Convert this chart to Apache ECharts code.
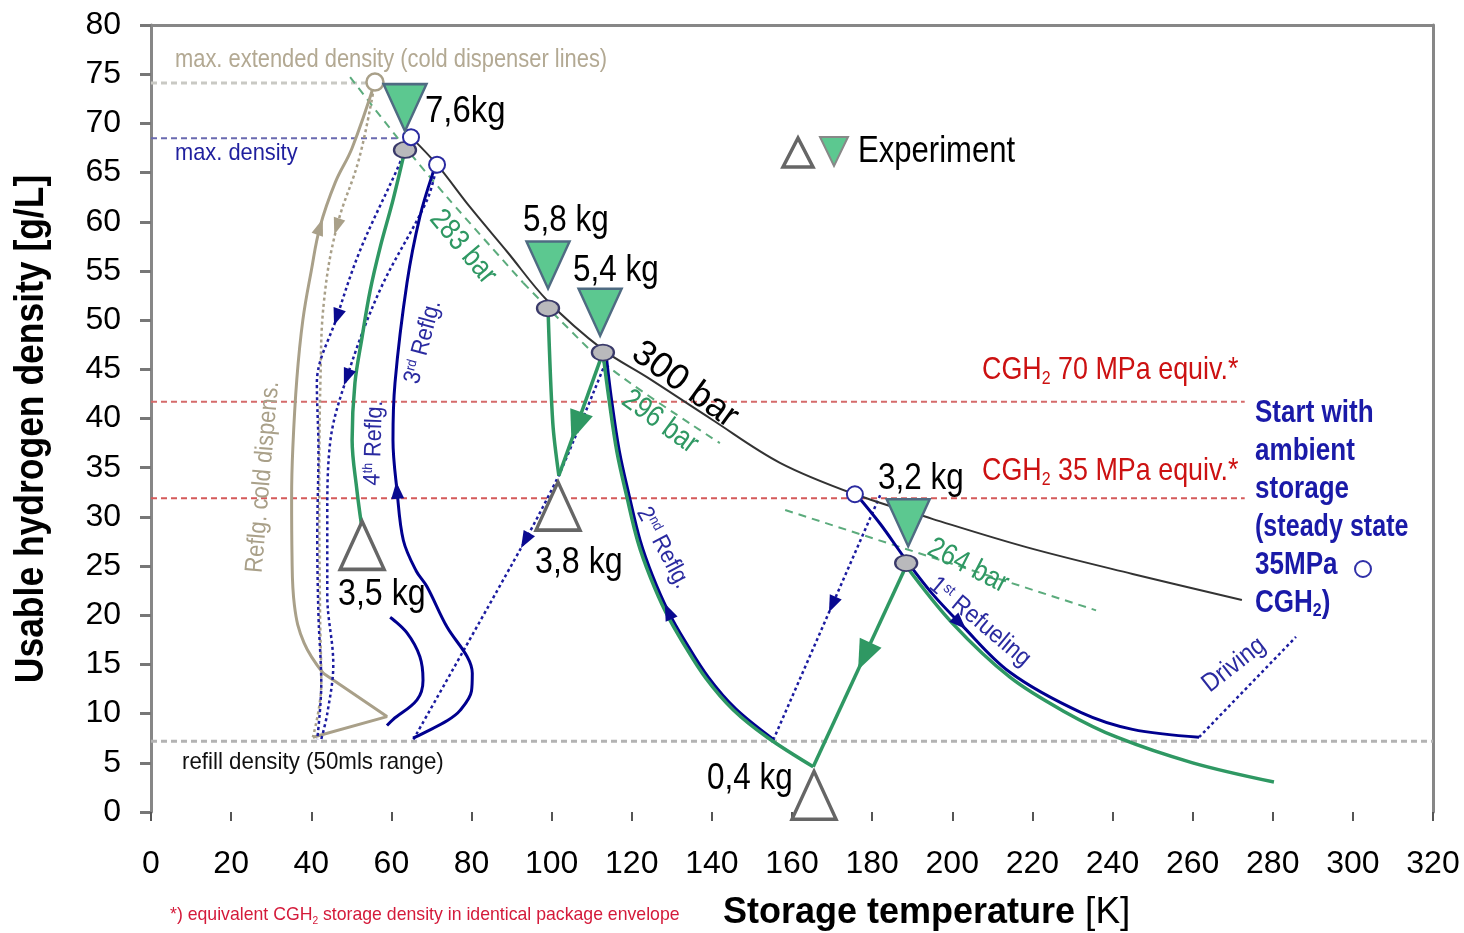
<!DOCTYPE html>
<html><head><meta charset="utf-8">
<script src="https://cdn.jsdelivr.net/npm/echarts@6.0.0/dist/echarts.min.js"></script>
<style>html,body{margin:0;padding:0;background:#fff}#c{width:1464px;height:933px}</style>
</head><body><div id="c"></div>
<script>
// ---------- axes ----------
const tempMin = 0, tempMax = 320, tempStep = 20;
const densMin = 0, densMax = 80, densStep = 5;

// ---------- reference levels [T, g/L] ----------
const maxExtendedDensity = [[0, 74.1], [56, 74.1]];
const maxDensityLine = [[0, 68.5], [61.5, 68.5]];
const cgh70Line = [[0, 41.7], [273, 41.7]];
const cgh35Line = [[0, 31.9], [273, 31.9]];
const refillLine = [[0, 7.2], [320, 7.2]];

// ---------- isobars ----------
const isobar300 = [[64.9,68.6],[71.4,65.8],[79.6,61.5],[89,56.9],[98.9,52.0],[112.8,47.0],[123.8,44.2],[140,39.9],[157,35.5],[175.7,32.3],[195,29.8],[218.7,26.9],[245,24.2],[272.3,21.55]];
const isobar283 = [[49.7,74.7],[61.4,68.6],[73.9,62.5],[92.9,53.8]];
const isobar296 = [[92.9,53.8],[102.1,50.0],[115.3,44.9],[142.0,37.5]];
const isobar264 = [[158.3,30.7],[235.9,20.5]];

// ---------- cold dispenser refill (tan) ----------
const coldRefillBase = [[40.4,7.6],[58.9,9.7],[43,14.1]];
const coldRefillRise = [[43,14.1],[38.2,17.2],[35.8,21],[35.2,26],[35.1,32],[35.4,37],[36.4,44],[37.9,50],[40,55],[42.2,59.5],[46,64],[50.2,67.5],[55.9,74.2]];
const coldDispDotted = [[55.9,74.2],[52,66.5],[46.4,59.5],[43.2,52],[42.3,44],[42,32],[42.2,20],[42.5,13],[40.4,7.6]];

// ---------- driving (blue dotted) ----------
const drivingA = [[63.4,67.3],[61.4,65.3],[52.2,57.1],[46.4,50.3],[41.4,43.6],[41.8,36.8],[41.5,28],[41.8,20],[42.5,13],[41.5,7.4]];
const drivingB = [[71.4,65.8],[68.9,62.2],[57.2,53.1],[48.9,44.2],[44.7,37.5],[44,30],[44,22],[45.5,15],[44,10],[42.5,7.4]];
const drivingC = [[114,46.2],[102.1,34.5],[93.4,27.6],[65.4,7.3]];
const drivingD = [[182,32.2],[155.5,7.5]];
const drivingE = [[261.6,7.6],[285.8,17.8]];

// ---------- refuelling (blue solid) ----------
const refuel1 = [[176,32.3],[182,29.3],[188.5,25.6],[195,22.2],[201.9,19.2],[214.4,14.2],[232.2,10.1],[245,8.4],[261.6,7.6]];
const refuel2 = [[155.6,7.3],[145.9,10.5],[139.1,13.7],[133.4,17.3],[129.1,20.4],[125.2,24.0],[122.1,27.6],[119.4,32.1],[116.9,36.7],[114.9,42.1],[113.6,46.5]];
const refuel3 = [[65.4,7.5],[67.9,8.0],[74,9.3],[77.1,10.3],[80,12.3],[80.2,14.1],[78.9,15.8],[73.9,18.8],[68.9,22.9],[66.2,24.5],[63,27.6],[61.4,32.7],[60.4,37.8],[60.9,43.6],[63.9,53.8],[67.1,60.5],[70.4,65.0],[71.4,65.8]];
const refuel4 = [[58.9,8.8],[60.4,9.4],[66.4,11.4],[67.9,13.4],[67.1,15.8],[63.9,18.2],[59.7,19.8]];

// ---------- experiments (green solid) ----------
const exp76 = [[63.4,67.3],[60.4,62.2],[57.2,57.4],[54.7,53.0],[52.7,48.3],[50.9,43.6],[50.2,37.8],[51.4,32.7],[52.5,29.3]];
const exp58 = [[99.1,51.2],[100.3,39.5],[101.8,34.2]];
const exp54to38 = [[112.8,46.7],[101.8,34.2]];
const exp54 = [[112.8,46.7],[114.3,42],[116.3,36.6],[118.8,32],[121.5,27.5],[124.6,23.9],[128.5,20.3],[132.8,17.2],[138.5,13.6],[145.3,10.4],[153.8,7.6],[165.3,4.6]];
const exp32to04 = [[188.5,25.0],[165.3,4.6]];
const exp32 = [[188.5,25.0],[200,19.2],[214.4,13.7],[228,10.2],[241.1,7.6],[260,5.0],[280.3,3.05]];

// ---------- markers ----------
const startTriangles = [[63.4,71.6],[99.1,55.6],[112.1,50.8],[189.0,29.4]];   // 7,6 / 5,8 / 5,4 / 3,2 kg
const endTriangles = [[52.7,27.1],[101.6,31.1],[165.5,1.7]];                  // 3,5 / 3,8 / 0,4 kg
const grayPoints = [[63.4,67.3],[99.1,51.2],[112.8,46.7],[188.5,25.3]];
const openPointsBlue = [[64.9,68.6],[71.4,65.8],[175.7,32.3]];
const openPointsTan = [[55.9,74.2]];

// arrow heads placed on paths: [path, segment, fraction, kind]
const arrowSpecs = [
  [coldRefillRise, 9, 0.0, 'tan'],
  [coldDispDotted, 1, 1.0, 'tan'],
  [drivingA, 2, 1.0, 'blue'],
  [drivingB, 2, 1.0, 'blue'],
  [refuel3, 11, 0.0, 'blue'],
  [drivingC, 2, 0.0, 'blue'],
  [refuel2, 4, 0.0, 'blue'],
  [exp54to38, 0, 0.6, 'green'],
  [drivingD, 0, 0.45, 'blue'],
  [exp32to04, 0, 0.45, 'green'],
  [refuel1, 4, 0.0, 'blue']
];

const FN = "'Liberation Sans Narrow','Arial Narrow','Liberation Sans',Arial,sans-serif";
const FS = "'Liberation Sans',Arial,sans-serif";
const BLUE = '#00008f', GREEN = '#2f9863', TAN = '#a9a089';

function ln(data, color, width, dash, smooth, z) {
  return {type:'line', data: data, showSymbol:false, symbol:'none', smooth: smooth || 0,
    lineStyle:{color:color, width:width, type: dash || 'solid', cap:'butt'}, z: z || 2,
    silent:true, animation:false, clip:true};
}
const dotted = [3, 3];
const series = [
  ln(maxExtendedDensity, '#c9c9c4', 3, [6,4]),
  ln(maxDensityLine, '#6a6ab0', 2, [6,4]),
  ln(cgh70Line, '#d56a6a', 2, [6,4]),
  ln(cgh35Line, '#d55a5a', 2, [6,4]),
  ln(refillLine, '#b3b3b3', 3, [6,4]),
  ln(isobar300, '#333', 2, null, 0.35, 3),
  ln(isobar283, '#5bab7c', 2, [8,6], 0.3),
  ln(isobar296, '#5bab7c', 2, [8,6], 0.3),
  ln(isobar264, '#5bab7c', 2, [8,6]),
  ln(coldRefillBase, TAN, 3),
  ln(coldRefillRise, TAN, 3, null, 0.4),
  ln(coldDispDotted, TAN, 2.5, dotted, 0.4),
  ln(drivingA, '#1c1ca0', 2.5, dotted, 0.35),
  ln(drivingB, '#1c1ca0', 2.5, dotted, 0.35),
  ln(drivingC, '#1c1ca0', 2.5, dotted, 0.2),
  ln(drivingD, '#1c1ca0', 2.5, dotted),
  ln(drivingE, '#1c1ca0', 2.5, dotted),
  ln(refuel1, BLUE, 3, null, 0.35, 4),
  ln(refuel2, BLUE, 3, null, 0.35, 4),
  ln(refuel3, BLUE, 3, null, 0.35, 4),
  ln(refuel4, BLUE, 3, null, 0.35, 4),
  ln(exp76, GREEN, 3.5, null, 0.35, 5),
  ln(exp58, GREEN, 3.5, null, 0.3, 5),
  ln(exp54to38, GREEN, 3.5, null, 0, 5),
  ln(exp54, GREEN, 3.5, null, 0.35, 5),
  ln(exp32to04, GREEN, 3.5, null, 0, 5),
  ln(exp32, GREEN, 3.5, null, 0.35, 5),
  {type:'scatter', data: grayPoints, symbol:'circle', symbolSize:[22,16], z:8, silent:true, animation:false,
    itemStyle:{color:'#b9b9bc', borderColor:'#3a3a6a', borderWidth:2, opacity:1}},
  {type:'scatter', data: openPointsBlue, symbol:'circle', symbolSize:16, z:8, silent:true, animation:false,
    itemStyle:{color:'#fff', borderColor:'#2a2aa0', borderWidth:2, opacity:1}},
  {type:'scatter', data: openPointsTan, symbol:'circle', symbolSize:17, z:8, silent:true, animation:false,
    itemStyle:{color:'#fff', borderColor:TAN, borderWidth:2.5, opacity:1}},
  {type:'scatter', data: startTriangles, symbol:'triangle', symbolRotate:180, symbolSize:[43,47], z:9, silent:true, animation:false, clip:false,
    itemStyle:{color:'#5cc890', borderColor:'#4f6b82', borderWidth:2.5, opacity:1}},
  {type:'scatter', data: endTriangles, symbol:'triangle', symbolSize:[44,48], z:9, silent:true, animation:false, clip:false,
    itemStyle:{color:'#fff', borderColor:'#666', borderWidth:3.5, opacity:1}}
];

// text helper: x,y anchor; sx = horizontal condensing; rot = degrees (CCW); rich optional
function T(x, y, text, size, color, o) {
  o = o || {};
  const centered = o.rot !== undefined || o.center;
  const st = {text:text, fontSize:size, fontFamily:FS, fill:color, fontWeight:o.bold ? 'bold' : 'normal',
    textAlign: centered ? 'center' : 'left', align: centered ? 'center' : 'left',
    textVerticalAlign:'middle', verticalAlign:'middle'};
  if (o.rich) st.rich = o.rich;
  const el = {type:'text', x:x, y:y, z:100, silent:true, scaleX: o.sx || 1, style:st};
  if (o.rot !== undefined) el.rotation = o.rot * Math.PI / 180;
  return el;
}
const supRich = (size, color, w) => ({
  n:{fontSize:size, fontFamily:FS, fill:color, fontWeight:w||'normal'},
  s:{fontSize:Math.round(size*0.6), fontFamily:FS, fill:color, verticalAlign:'top', fontWeight:w||'normal'}
});
const subRich = (size, color, w) => ({
  n:{fontSize:size, fontFamily:FS, fill:color, fontWeight:w||'normal', lineHeight:size+4},
  b:{fontSize:Math.round(size*0.6), fontFamily:FS, fill:color, verticalAlign:'bottom', fontWeight:w||'normal', lineHeight:size+4}
});
const NAVYTXT = '#1a1aa8', RED = '#cc1111';

const graphics = [
  T(175, 60, 'max. extended density (cold dispenser lines)', 25, '#b3a993', {sx:0.876}),
  T(175, 153, 'max. density', 24, '#1f1f9e', {sx:0.91}),
  T(425, 112, '7,6kg', 37, '#000', {sx:0.89}),
  T(523, 221, '5,8 kg', 37, '#000', {sx:0.85}),
  T(573, 271, '5,4 kg', 37, '#000', {sx:0.85}),
  T(878, 479, '3,2 kg', 37, '#000', {sx:0.85}),
  T(338, 595, '3,5 kg', 37, '#000', {sx:0.87}),
  T(535, 563, '3,8 kg', 37, '#000', {sx:0.87}),
  T(707, 779, '0,4 kg', 37, '#000', {sx:0.85}),
  T(858, 152, 'Experiment', 37, '#000', {sx:0.84}),
  T(982, 370, '{n|CGH}{b|2}{n| 70 MPa equiv.*}', 32, RED, {sx:0.84, rich:subRich(32, RED)}),
  T(982, 471, '{n|CGH}{b|2}{n| 35 MPa equiv.*}', 32, RED, {sx:0.84, rich:subRich(32, RED)}),
  T(1255, 413, 'Start with', 31, NAVYTXT, {bold:true, sx:0.84}),
  T(1255, 451, 'ambient', 31, NAVYTXT, {bold:true, sx:0.84}),
  T(1255, 489, 'storage', 31, NAVYTXT, {bold:true, sx:0.84}),
  T(1255, 527, '(steady state', 31, NAVYTXT, {bold:true, sx:0.81}),
  T(1255, 565, '35MPa', 31, NAVYTXT, {bold:true, sx:0.84}),
  T(1255, 603, '{n|CGH}{b|2}{n|)}', 31, NAVYTXT, {sx:0.84, rich:subRich(31, NAVYTXT, 'bold')}),
  {type:'circle', z:100, silent:true, shape:{cx:1363, cy:569, r:8}, style:{fill:'#fff', stroke:'#3030a8', lineWidth:2}},
  T(182, 762, 'refill density (50mls range)', 24, '#111', {sx:0.93}),
  T(170, 915, '{n|*) equivalent CGH}{b|2}{n| storage density in identical package envelope}', 19, '#d41a3a', {sx:0.93, rich:subRich(19, '#d41a3a')}),
  T(685, 385, '300 bar', 36, '#000', {rot:-36}),
  T(463, 247, '283 bar', 30, GREEN, {rot:-50, sx:0.85}),
  T(660, 422, '296 bar', 30, GREEN, {rot:-36, sx:0.85}),
  T(968, 566, '264 bar', 30, GREEN, {rot:-27, sx:0.85}),
  T(423, 342, '{n|3}{s|rd}{n| Reflg.}', 24, '#2a2aa0', {rot:75, sx:0.9, rich:supRich(24, '#2a2aa0')}),
  T(374, 443, '{n|4}{s|th}{n| Reflg.}', 24, '#2a2aa0', {rot:88, sx:0.9, rich:supRich(24, '#2a2aa0')}),
  T(663, 548, '{n|2}{s|nd}{n| Reflg.}', 24, '#2a2aa0', {rot:-62, sx:0.9, rich:supRich(24, '#2a2aa0')}),
  T(980, 622, '{n|1}{s|st}{n| Refueling}', 25, '#2a2aa0', {rot:-40, sx:0.9, rich:supRich(25, '#2a2aa0')}),
  T(1234, 665, 'Driving', 26, '#2a2aa0', {rot:38, sx:0.9}),
  T(263, 477, 'Reflg. cold dispens.', 25, TAN, {rot:85, sx:0.88}),
  // legend glyphs
  {type:'polygon', z:100, silent:true, shape:{points:[[798,138],[813,167],[783,167]]}, style:{fill:'#fff', stroke:'#666', lineWidth:3.5}},
  {type:'polygon', z:100, silent:true, shape:{points:[[820,137],[848,137],[834,166]]}, style:{fill:'#5cc890', stroke:'#888', lineWidth:2}},
  // axis titles
  T(32, 429, 'Usable hydrogen density [g/L]', 41, '#000', {rot:90, bold:true, sx:0.865}),
  T(723, 913, '{b|Storage temperature }{r|[K]}', 36, '#000', {rich:{b:{fontSize:36, fontWeight:'bold', fontFamily:FS, fill:'#000'}, r:{fontSize:37, fontFamily:FS, fill:'#000'}}})
];

const chart = echarts.init(document.getElementById('c'), null, {renderer:'canvas'});
const option = {
  animation:false,
  backgroundColor:'#fff',
  grid:{left:151, top:25, width:1282, height:787, outerBoundsMode:'none', containLabel:false},
  xAxis:[
    {type:'value', min:tempMin, max:tempMax, interval:tempStep, position:'bottom',
      axisLine:{show:false}, splitLine:{show:false},
      axisTick:{show:true, length:9, lineStyle:{color:'#555', width:2}},
      axisLabel:{margin:36, fontSize:32, fontFamily:FS, color:'#000'}},
    {type:'value', min:tempMin, max:tempMax, position:'top',
      axisLine:{show:true, onZero:false, lineStyle:{color:'#878787', width:3}}, axisTick:{show:false}, axisLabel:{show:false}, splitLine:{show:false}}
  ],
  yAxis:[
    {type:'value', min:densMin, max:densMax, interval:densStep, position:'left',
      axisLine:{show:true, onZero:false, lineStyle:{color:'#878787', width:3}}, splitLine:{show:false},
      axisTick:{show:true, length:11, lineStyle:{color:'#777', width:3}},
      axisLabel:{margin:30, fontSize:32, fontFamily:FS, color:'#000'}},
    {type:'value', min:densMin, max:densMax, position:'right',
      axisLine:{show:true, onZero:false, lineStyle:{color:'#878787', width:3}}, axisTick:{show:false}, axisLabel:{show:false}, splitLine:{show:false}}
  ],
  series: series,
  graphic: graphics
};
chart.setOption(option);

// arrow heads oriented along their paths (pixel space)
const p0 = chart.convertToPixel({xAxisIndex:0, yAxisIndex:0}, [0, 0]);
const p1 = chart.convertToPixel({xAxisIndex:0, yAxisIndex:0}, [100, 10]);
const sx = (p1[0]-p0[0])/100, sy = (p1[1]-p0[1])/10;
const arrowStyle = {
  blue:{size:[13,17], color:'#0a0a90'},
  green:{size:[24,30], color:'#2f9863'},
  tan:{size:[12,17], color:TAN}
};
const arrowSeries = ['blue','green','tan'].map(kind => {
  const data = arrowSpecs.filter(a => a[3] === kind).map(a => {
    const path = a[0], i = a[1], f = a[2];
    const A = path[i], B = path[i+1];
    const x = A[0] + (B[0]-A[0])*f, y = A[1] + (B[1]-A[1])*f;
    const dx = (B[0]-A[0])*sx, dy = (B[1]-A[1])*sy;
    const rot = Math.atan2(-dx, -dy) * 180 / Math.PI;
    return {value:[x, y], symbolRotate: rot};
  });
  return {type:'scatter', data:data, symbol:'triangle', symbolSize:arrowStyle[kind].size, z:7, silent:true, animation:false,
    itemStyle:{color:arrowStyle[kind].color, opacity:1}};
});
chart.setOption({series: series.concat(arrowSeries)});
</script></body></html>
